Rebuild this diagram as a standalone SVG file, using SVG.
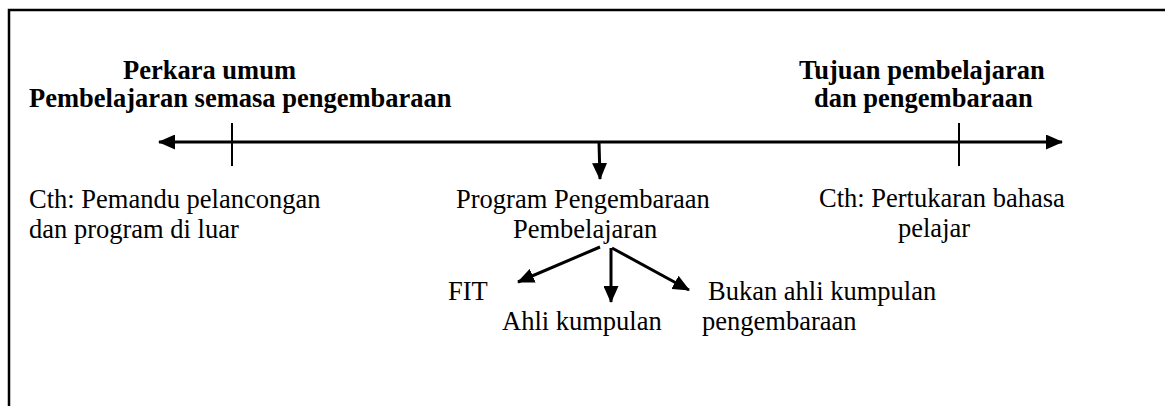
<svg xmlns="http://www.w3.org/2000/svg" width="1165" height="406" viewBox="0 0 1165 406">
<style>
  .t { font-family: "Liberation Serif", "Times New Roman", serif; font-size: 26.5px; fill: #000; }
  .b { font-weight: bold; }
  .ln { stroke: #000; stroke-width: 3; fill: none; }
  .tick { stroke: #000; stroke-width: 2; fill: none; }
</style>
<defs>
  <marker id="ah" viewBox="0 0 17 15" refX="16" refY="7.5" markerWidth="17" markerHeight="15" markerUnits="userSpaceOnUse" orient="auto-start-reverse">
    <path d="M0,0 L17,7.5 L0,15 Z" fill="#000"/>
  </marker>
</defs>
<rect width="1165" height="406" fill="#fff"/>
<g id="frame">
  <path d="M9,406 V10 H1165" stroke="#000" stroke-width="2.5" fill="none"/>
</g>
<g id="connectors">
  <line class="ln" x1="159" y1="142" x2="1062" y2="142" marker-start="url(#ah)" marker-end="url(#ah)"/>
  <line class="tick" x1="232" y1="123" x2="232" y2="166"/>
  <line class="tick" x1="959" y1="123" x2="959" y2="166"/>
  <line class="ln" x1="599" y1="142" x2="600" y2="179" marker-end="url(#ah)"/>
  <line class="ln" x1="600" y1="247" x2="518" y2="282" marker-end="url(#ah)"/>
  <line class="ln" x1="611" y1="248" x2="611" y2="302" marker-end="url(#ah)"/>
  <line class="ln" x1="612" y1="248" x2="689" y2="290" marker-end="url(#ah)"/>
</g>
<g id="node-perkara-umum">
  <text class="t b" x="123" y="79">Perkara umum</text>
  <text class="t b" x="29" y="107">Pembelajaran semasa pengembaraan</text>
</g>
<g id="node-tujuan">
  <text class="t b" x="799" y="79">Tujuan pembelajaran</text>
  <text class="t b" x="814" y="107">dan pengembaraan</text>
</g>
<g id="node-cth-left">
  <text class="t" x="29" y="208">Cth: Pemandu pelancongan</text>
  <text class="t" x="29" y="238">dan program di luar</text>
</g>
<g id="node-program">
  <text class="t" x="456" y="208">Program Pengembaraan</text>
  <text class="t" x="513" y="238">Pembelajaran</text>
</g>
<g id="node-cth-right">
  <text class="t" x="819" y="207">Cth: Pertukaran bahasa</text>
  <text class="t" x="898" y="237">pelajar</text>
</g>
<g id="node-fit">
  <text class="t" x="448" y="300">FIT</text>
</g>
<g id="node-ahli">
  <text class="t" x="502" y="330">Ahli kumpulan</text>
</g>
<g id="node-bukan">
  <text class="t" x="708" y="300">Bukan ahli kumpulan</text>
  <text class="t" x="702" y="330">pengembaraan</text>
</g>
</svg>
